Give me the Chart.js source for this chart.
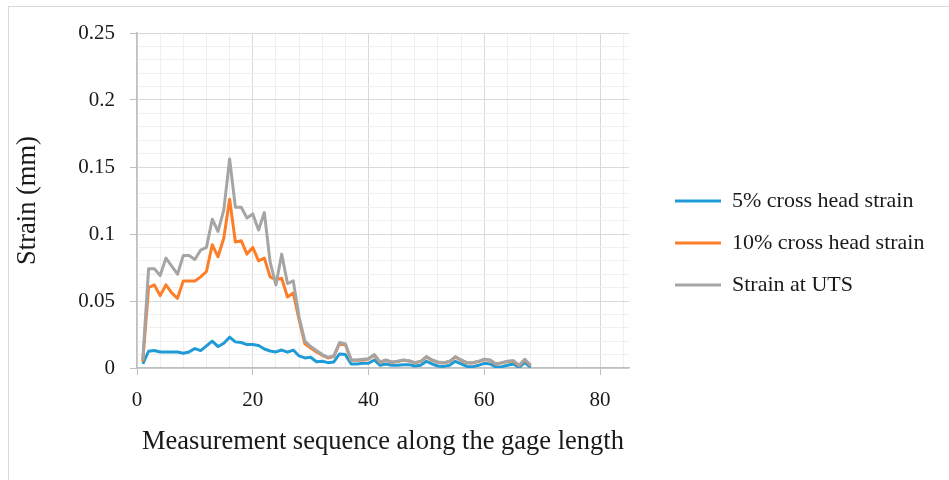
<!DOCTYPE html>
<html><head><meta charset="utf-8">
<script src="https://cdn.jsdelivr.net/npm/chart.js@4.4.1/dist/chart.umd.min.js"></script>
<style>
html,body{margin:0;padding:0;background:#fff;}
#wrap{position:relative;width:949px;height:480px;overflow:hidden;background:#fff;}
#frame{position:absolute;left:8px;top:6px;width:1000px;height:600px;border:1px solid #d9d9d9;box-sizing:border-box;}
canvas{position:absolute;left:0;top:0;}
</style></head><body>
<div id="wrap"><div id="frame"></div><canvas id="c" width="949" height="480"></canvas></div>
<script>
// ---- data ----
const seq = [1,2,3,4,5,6,7,8,9,10,11,12,13,14,15,16,17,18,19,20,21,22,23,24,25,26,27,28,29,30,31,32,33,34,35,36,37,38,39,40,41,42,43,44,45,46,47,48,49,50,51,52,53,54,55,56,57,58,59,60,61,62,63,64,65,66,67,68];
const fivePct = [0.003,0.0125,0.013,0.012,0.012,0.012,0.012,0.011,0.012,0.0145,
 0.013,0.0165,0.020,0.016,0.0185,0.023,0.0195,0.019,0.0175,0.0175,
 0.0168,0.0142,0.0127,0.012,0.0134,0.0118,0.0134,0.009,0.0075,0.008,
 0.0047,0.005,0.004,0.0045,0.0105,0.010,0.003,0.003,0.0035,0.0035,
 0.006,0.002,0.003,0.002,0.002,0.0025,0.0025,0.0015,0.002,0.005,
 0.003,0.0015,0.0012,0.002,0.005,0.003,0.0012,0.001,0.002,0.0035,
 0.003,0.0008,0.001,0.002,0.003,0.0005,0.004,0.0005];
const tenPct = [0.005,0.060,0.062,0.054,0.062,0.056,0.052,0.065,0.065,0.065,
 0.068,0.072,0.092,0.083,0.097,0.126,0.094,0.095,0.085,0.090,
 0.080,0.082,0.068,0.066,0.067,0.053,0.056,0.036,0.018,0.015,
 0.012,0.0095,0.0075,0.0085,0.0185,0.0175,0.006,0.0058,0.006,0.0067,
 0.0095,0.0042,0.0057,0.0042,0.0048,0.0057,0.0052,0.0038,0.0048,0.0082,
 0.0057,0.0042,0.0038,0.0048,0.0082,0.0057,0.0038,0.0038,0.0048,0.0062,
 0.0057,0.0028,0.0038,0.0048,0.0052,0.0018,0.0062,0.0018];
const atUTS = [0.006,0.074,0.074,0.069,0.082,0.076,0.070,0.084,0.084,0.081,
 0.088,0.090,0.111,0.102,0.118,0.156,0.120,0.120,0.112,0.115,
 0.103,0.116,0.079,0.062,0.085,0.063,0.065,0.038,0.020,0.016,
 0.013,0.010,0.008,0.009,0.019,0.018,0.006,0.006,0.0065,0.007,
 0.010,0.0045,0.006,0.0045,0.005,0.006,0.0055,0.004,0.005,0.0085,
 0.006,0.0045,0.004,0.005,0.0085,0.006,0.004,0.004,0.005,0.0065,
 0.006,0.003,0.004,0.005,0.0055,0.002,0.0065,0.002];
const seriesNames = ['5% cross head strain','10% cross head strain','Strain at UTS'];
const xTickLabels = [0,20,40,60,80];
const yTickLabels = [0,0.05,0.1,0.15,0.2,0.25];
const xTitle = 'Measurement sequence along the gage length';
const yTitle = 'Strain (mm)';

// ---- style ----
const FONT = '"Liberation Serif","Times New Roman",serif';
const TXT = '#1a1a1a';
const colors = ['#1f9bd7','#fd7e27','#a5a5a5'];
const AREA = {left:137, right:629, top:33, bottom:368};
const LEGEND_X = 675, LEGEND_Y = 190, LEG_PAD = 20;

const pts = arr => seq.map((x,i)=>({x:x, y:arr[i]}));
const isMajorX = v => xTickLabels.some(t => Math.abs(t - v) < 1e-6);
const isMajorY = v => yTickLabels.some(t => Math.abs(t - v) < 1e-6);

const legendPlace = {
  id:'legendPlace',
  afterLayout(chart){
    const l = chart.legend; if(!l) return;
    const dx = LEGEND_X - LEG_PAD - l.left; l.left += dx; l.right += dx;
    const dy = LEGEND_Y - LEG_PAD - l.top; l.top += dy; l.bottom += dy;
  }
};

const ds = (i, arr, order) => ({label:seriesNames[i], data:pts(arr), borderColor:colors[i], backgroundColor:colors[i],
  pointBorderColor:colors[i], pointBorderWidth:3, borderWidth:3, order:order});

const cfg = {
  type:'line',
  data:{datasets:[ ds(0, fivePct, 2), ds(1, tenPct, 1), ds(2, atUTS, 0) ]},
  options:{
    responsive:false, animation:false, devicePixelRatio:1,
    layout:{padding:{top:AREA.top, left:0, bottom:0, right:24}},
    elements:{line:{borderWidth:3, tension:0, borderJoinStyle:'round'}, point:{radius:0, hoverRadius:0}},
    plugins:{
      tooltip:{enabled:false},
      legend:{position:'right', align:'start', maxWidth:600,
        labels:{usePointStyle:true, pointStyle:'line', pointStyleWidth:46, padding:LEG_PAD,
          color:TXT, font:{family:FONT, size:22},
          sort:(a,b)=>a.datasetIndex-b.datasetIndex}}
    },
    scales:{
      x:{type:'linear', min:0, max:85,
        ticks:{stepSize:4, includeBounds:false, autoSkip:false, maxRotation:0, padding:13,
          color:TXT, font:{family:FONT, size:21},
          callback:v => isMajorX(v) ? String(v) : ''},
        grid:{color:c => isMajorX(c.tick.value) ? '#d9d9d9' : '#efefef', lineWidth:1, tickLength:7,
          tickColor:c => isMajorX(c.tick.value) ? '#bfbfbf' : 'rgba(0,0,0,0)'},
        border:{color:'#bfbfbf', width:1.5},
        title:{display:true, text:xTitle, color:TXT, font:{family:FONT, size:26.5}, padding:{top:0,bottom:22}},
        afterFit:s => { s.height = 480 - AREA.bottom; }
      },
      y:{type:'linear', min:0, max:0.25,
        ticks:{stepSize:0.01, autoSkip:false, padding:15, color:TXT, font:{family:FONT, size:21},
          callback:v => isMajorY(v) ? String(Number(v.toFixed(2))) : ''},
        grid:{color:c => isMajorY(c.tick.value) ? '#d9d9d9' : '#efefef', lineWidth:1, tickLength:7,
          tickColor:c => isMajorY(c.tick.value) ? '#bfbfbf' : 'rgba(0,0,0,0)'},
        border:{color:'#bfbfbf', width:1.5},
        title:{display:true, text:yTitle, color:TXT, font:{family:FONT, size:26.5}, padding:{top:12,bottom:0}},
        afterFit:s => { s.width = AREA.left; }
      }
    }
  },
  plugins:[legendPlace]
};
const chart = new Chart(document.getElementById('c'), cfg);
let padR = 24;
for (let k = 0; k < 3; k++) {
  const dr = AREA.right - chart.chartArea.right;
  if (Math.abs(dr) < 0.25) break;
  padR -= dr;
  chart.options.layout.padding = {top:AREA.top, left:0, bottom:0, right:padR};
  chart.update('none');
}
</script>
</body></html>
